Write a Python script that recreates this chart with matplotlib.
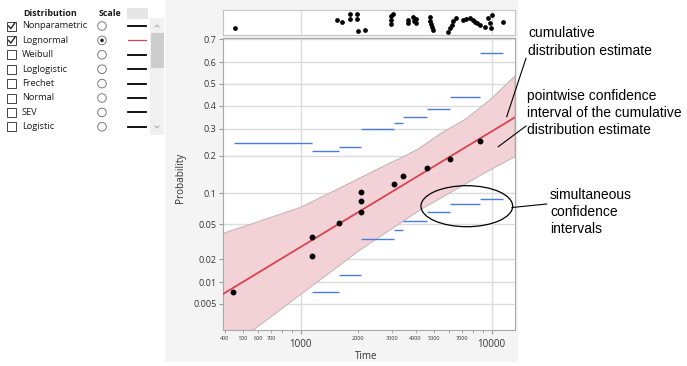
import numpy as np
import matplotlib
matplotlib.use("Agg")
import matplotlib.pyplot as plt
from matplotlib.patches import Rectangle, Circle, Ellipse
from matplotlib.ticker import NullLocator
from statistics import NormalDist

# ---- data ------------------------------------------------------------------
# nonparametric estimates (failure times and plotting positions)
fail_time = [443, 1142, 1142, 1587, 2061, 2061, 2061, 3069, 3420, 4571, 6051, 8650]
fail_prob = [0.0073, 0.0367, 0.0219, 0.0512, 0.102, 0.0846, 0.0672,
             0.1205, 0.1396, 0.1615, 0.1896, 0.251]

# lognormal fit (straight line on lognormal probability paper)
fit_time = [392, 13250]
fit_prob = [0.0069, 0.348]

# pointwise confidence band edges
band_up_time = [392, 1000, 1606, 2045, 2935, 3433, 4213, 5362, 7336, 9797, 13250]
band_up_prob = [0.0398, 0.0740, 0.1114, 0.1353, 0.1772, 0.196, 0.2266,
                0.279, 0.341, 0.4256, 0.537]
band_lo_time = [392, 565, 1000, 2045, 4213, 9797, 13250]
band_lo_prob = [0.00082, 0.00196, 0.0068, 0.0258, 0.0698, 0.1567, 0.197]

# simultaneous confidence intervals (step bounds)
step_edges = [445, 1142, 1587, 2061, 3069, 3420, 4571, 6051, 8650, 11420]
simul_upper = [0.2435, 0.217, 0.231, 0.299, 0.3225, 0.348, 0.383, 0.438, 0.640]
simul_lower = [None, 0.00745, 0.0126, 0.0346, 0.0435, 0.0545, 0.0667, 0.0793, 0.0882]

# all observations shown in the rug strip (time, vertical jitter 0..1)
rug_time = [453, 1543, 1640, 1812, 1812, 1978, 1978, 2002, 2171, 2970, 2970, 2970,
            3061, 3659, 3659, 3873, 3920, 4040, 4016, 4753, 4753, 4840, 4869, 4928,
            5904, 6048, 6195, 6310, 6502, 7074, 7336, 7699, 7981, 8177, 8375, 8684,
            9224, 9563, 9797, 9916, 10037, 11502]
rug_jitter = [0.27, 0.60, 0.51, 0.83, 0.64, 0.83, 0.64, 0.17, 0.21, 0.76, 0.60, 0.44,
              0.84, 0.60, 0.47, 0.72, 0.56, 0.48, 0.64, 0.72, 0.58, 0.44, 0.32, 0.20,
              0.13, 0.28, 0.40, 0.56, 0.67, 0.60, 0.64, 0.67, 0.60, 0.53, 0.47, 0.40,
              0.33, 0.67, 0.47, 0.28, 0.80, 0.53]

prob_ticks = [0.005, 0.01, 0.02, 0.05, 0.1, 0.2, 0.3, 0.4, 0.5, 0.6, 0.7]
time_major = [1000, 10000]
time_minor = [400, 500, 600, 700, 800, 900, 2000, 3000, 4000, 5000, 6000, 7000, 8000, 9000]
time_minor_labels = ["400", "500", "600", "700", "", "", "2000", "3000", "4000",
                     "5000", "", "7000", "", ""]

dist_names = ["Nonparametric", "Lognormal", "Weibull", "Loglogistic",
              "Frechet", "Normal", "SEV", "Logistic"]
dist_checked = [True, True, False, False, False, False, False, False]
scale_choice = "Lognormal"

RED = "#d8434f"
BLUE = "#4a7be0"
UI_FONT = "Open Sans"
NOTE_FONT = "Liberation Sans"

# ---- probability (normal quantile) scale -----------------------------------
_nd = NormalDist()
_ppf = np.vectorize(_nd.inv_cdf, otypes=[float])
_cdf = np.vectorize(_nd.cdf, otypes=[float])


def prob_fwd(p):
    p = np.clip(np.asarray(p, dtype=float), 1e-9, 1 - 1e-9)
    return _ppf(p)


def prob_inv(z):
    return _cdf(np.asarray(z, dtype=float))


W, H = 687, 366
fig = plt.figure(figsize=(W / 100, H / 100), dpi=100)
fig.patch.set_facecolor("white")


def px_axes(l, t, r, b):
    return [l / W, 1 - b / H, (r - l) / W, (b - t) / H]


# background / overlay axes in pixel coordinates
bg = fig.add_axes([0, 0, 1, 1])
bg.set_xlim(0, W); bg.set_ylim(H, 0); bg.axis("off"); bg.set_zorder(0)
fg = fig.add_axes([0, 0, 1, 1])
fg.set_xlim(0, W); fg.set_ylim(H, 0); fg.axis("off"); fg.set_zorder(3)
fg.patch.set_alpha(0)

bg.add_patch(Rectangle((165, 0), 353, 362, facecolor="#f4f4f4", edgecolor="none"))

# ---- main plot --------------------------------------------------------------
ax = fig.add_axes(px_axes(223, 38, 515, 330))
ax.set_zorder(1)
ax.set_facecolor("white")
ax.set_xscale("log")
ax.set_yscale("function", functions=(prob_fwd, prob_inv))
ax.set_xlim(392, 13250)
ax.set_ylim(0.00196, 0.705)

ax.fill(np.r_[band_up_time, band_lo_time[::-1]],
        np.r_[band_up_prob, band_lo_prob[::-1]],
        facecolor="#f3d2d7", edgecolor="#c8b6b9", lw=0.8, zorder=2)
ax.plot(fit_time, fit_prob, color=RED, lw=1.3, zorder=3)

for i in range(len(simul_upper)):
    ax.hlines(simul_upper[i], step_edges[i], step_edges[i + 1], color=BLUE, lw=1.0, zorder=3)
    if simul_lower[i] is not None:
        ax.hlines(simul_lower[i], step_edges[i], step_edges[i + 1], color=BLUE, lw=1.0, zorder=3)

ax.plot(fail_time, fail_prob, "o", color="black", ms=3.2, zorder=4)

ax.set_yticks(prob_ticks, [str(p) for p in prob_ticks])
ax.yaxis.set_minor_locator(NullLocator())
ax.set_xticks(time_major, ["1000", "10000"])
ax.set_xticks(time_minor, time_minor_labels, minor=True)
ax.grid(True, which="major", color="#dcdcdc", lw=1)
ax.set_axisbelow(True)
ax.tick_params(axis="y", labelsize=6.5, length=3, color="#999999", labelcolor="#333333", pad=1.5)
ax.tick_params(axis="x", which="major", labelsize=7, length=3, color="#999999",
               labelcolor="#333333", pad=3.5)
ax.tick_params(axis="x", which="minor", labelsize=4, length=2.5, color="#999999",
               labelcolor="#333333", pad=1.5)
for lab in ax.get_xticklabels(which="both") + ax.get_yticklabels():
    lab.set_fontfamily(UI_FONT)
for s in ax.spines.values():
    s.set_color("#a8a8a8")
ax.set_ylabel("Probability", fontsize=7.2, family=UI_FONT, color="#333333", va="center")
ax.yaxis.set_label_coords(-0.145, 0.52)
ax.set_xlabel("Time", fontsize=7, family=UI_FONT, color="#333333", va="center")
ax.xaxis.set_label_coords(0.492, -0.091)

# ---- rug strip --------------------------------------------------------------
rug = fig.add_axes(px_axes(223, 10, 515, 35))
rug.set_zorder(1)
rug.set_facecolor("white")
rug.set_xscale("log")
rug.set_xlim(392, 13250)
rug.set_ylim(0, 1)
for t in time_major:
    rug.axvline(t, color="#dcdcdc", lw=1, zorder=0)
rug.plot(rug_time, rug_jitter, "o", color="black", ms=2.4, zorder=2)
rug.set_xticks([]); rug.set_yticks([])
rug.xaxis.set_minor_locator(NullLocator())
for s in rug.spines.values():
    s.set_color("#c4c4c4")

# ---- distribution table (left panel) ---------------------------------------
fg.add_patch(Rectangle((127, 8), 21, 11, facecolor="#e6e6e6", edgecolor="none"))
fg.text(50, 13.5, "Distribution", fontsize=6.4, weight="bold", family=UI_FONT,
        ha="center", va="center", color="#1a1a1a")
fg.text(110, 13.5, "Scale", fontsize=6.4, weight="bold", family=UI_FONT,
        ha="center", va="center", color="#1a1a1a")
for i, name in enumerate(dist_names):
    y = 26 + 14.4 * i
    fg.add_patch(Rectangle((7, y - 4.5), 9, 9, facecolor="white", edgecolor="#444444", lw=0.7))
    if dist_checked[i]:
        fg.plot([8.5, 10.8, 14.8], [y, y + 2.6, y - 3], color="#222222", lw=1.0)
    fg.text(22, y, name, fontsize=6.7, family=UI_FONT, va="center", ha="left", color="#1a1a1a")
    fg.add_patch(Circle((102, y), 4.3, facecolor="white", edgecolor="#666666", lw=0.6))
    if name == scale_choice:
        fg.add_patch(Circle((102, y), 1.8, facecolor="#222222", edgecolor="none"))
    fg.plot([128, 146], [y, y], color=RED if name == scale_choice else "black",
            lw=0.9 if name == scale_choice else 1.3)

# scrollbar
fg.add_patch(Rectangle((150, 18), 14, 117, facecolor="#f0f0f0", edgecolor="none"))
fg.add_patch(Rectangle((150.5, 33), 13, 35, facecolor="#cdcdcd", edgecolor="none"))
fg.plot([155, 157, 159], [27, 25, 27], color="#a8a8a8", lw=0.7)
fg.plot([155, 157, 159], [126, 128, 126], color="#a8a8a8", lw=0.7)

# ---- annotations ------------------------------------------------------------
fg.text(528, 42, "cumulative\ndistribution estimate", fontsize=10, family=NOTE_FONT,
        ha="left", va="center", linespacing=1.3, color="black")
fg.text(527, 113, "pointwise confidence\ninterval of the cumulative\ndistribution estimate",
        fontsize=10, family=NOTE_FONT, ha="left", va="center", linespacing=1.3, color="black")
fg.text(550, 212, "simultaneous\nconfidence\nintervals", fontsize=10, family=NOTE_FONT,
        ha="left", va="center", linespacing=1.3, color="black")
fg.plot([526, 506.7], [58.3, 116.7], color="black", lw=0.8)
fg.plot([526, 498.3], [126, 146.7], color="black", lw=0.8)
fg.plot([512, 546.7], [207.5, 204], color="black", lw=0.8)
fg.add_patch(Ellipse((466.8, 206.2), 91.7, 41, facecolor="none", edgecolor="black", lw=0.9))

fig.savefig("out.png", dpi=100)
